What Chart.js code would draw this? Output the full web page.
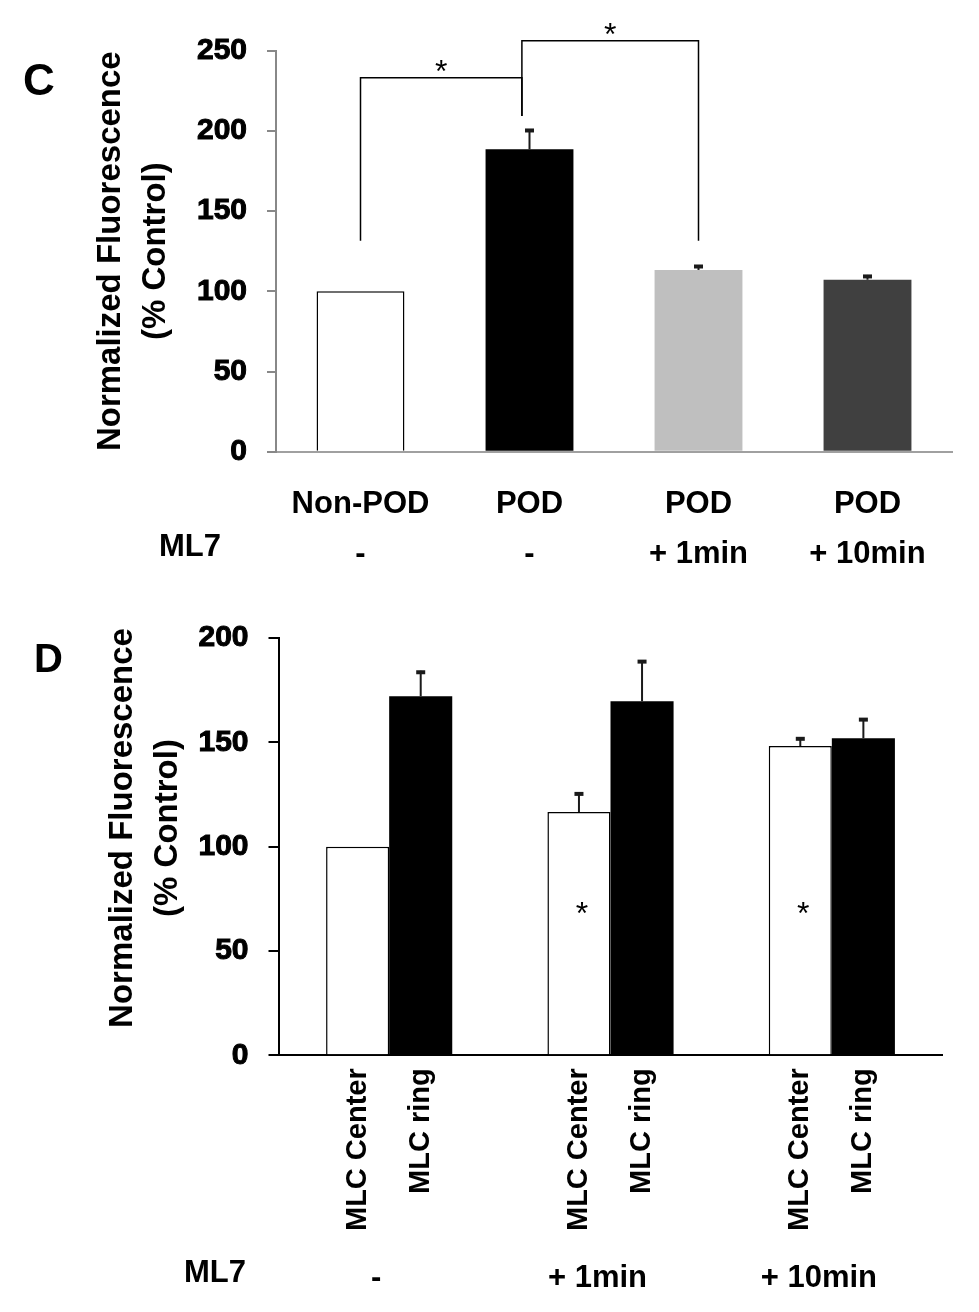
<!DOCTYPE html>
<html>
<head>
<meta charset="utf-8">
<title>Normalized Fluorescence</title>
<script src="https://cdn.jsdelivr.net/npm/chart.js@4.4.1/dist/chart.umd.min.js"></script>
<style>
    html, body { margin: 0; padding: 0; background: #fff; }
    #wrap { position: relative; width: 979px; height: 1312px; }
    .panel { position: absolute; left: 0; width: 979px; }
    #panelC { top: 0; height: 600px; }
    #panelD { top: 600px; height: 712px; }
</style>
</head>
<body>
<div id="wrap">
    <div class="panel" id="panelC"><canvas id="chartC"></canvas></div>
    <div class="panel" id="panelD"><canvas id="chartD"></canvas></div>
</div>
<script>
// Panel C data
const cConditions = ['Non-POD', 'POD', 'POD', 'POD'];
const cMl7 = ['-', '-', '+ 1min', '+ 10min'];
const cMeans = [100, 188.5, 113.3, 107.2];
const cErrors = [0, 12.7, 3.1, 3.0];
const cColors = ['#ffffff', '#000000', '#bfbfbf', '#404040'];
// significance brackets: [left index, right index, left foot, top, right foot]
const cBrackets = [[0, 0.955, 131.5, 233.2, 209.3], [0.955, 2, 209.3, 256.2, 131.5]];
const cStarLevels = [242.3, 265.4];

// Panel D data
const dMl7 = ['-', '+ 1min', '+ 10min'];
const dSeries = ['MLC Center', 'MLC ring'];
const dCenter = [100, 116.6, 148.2];
const dCenterErr = [0, 9.4, 4.2];
const dRing = [172.1, 169.7, 152.0];
const dRingErr = [12.2, 19.7, 9.6];
const dCenterStars = [null, 72, 72];

const FONT = '"Liberation Sans", Arial, sans-serif';
Chart.defaults.font.family = FONT;
Chart.defaults.color = '#000';
Chart.defaults.animation = false;
Chart.defaults.responsive = true;
Chart.defaults.maintainAspectRatio = false;

/**
 * Error bars (upper half only) on top of a bar dataset
 */
function drawErrorBars(chart, dsIndex, means, errs) {
    const ctx = chart.ctx;
    const y = chart.scales.y;
    const meta = chart.getDatasetMeta(dsIndex);
    ctx.save();
    ctx.strokeStyle = '#1a1a1a';
    ctx.fillStyle = '#1a1a1a';
    ctx.lineWidth = 2;
    meta.data.forEach((bar, i) => {
        if (!errs[i]) return;
        const top = y.getPixelForValue(means[i] + errs[i]);
        ctx.beginPath();
        ctx.moveTo(bar.x, bar.y);
        ctx.lineTo(bar.x, top);
        ctx.stroke();
        ctx.fillRect(bar.x - 4.5, top - 0.5, 9, 4);
    });
    ctx.restore();
}

function drawStar(ctx, x, y) {
    ctx.save();
    ctx.font = '32px ' + FONT;
    ctx.textAlign = 'center';
    ctx.textBaseline = 'alphabetic';
    ctx.fillText('*', x, y + 0.58 * 32);
    ctx.restore();
}

function drawYTitle(ctx, x1, x2, yc) {
    ctx.save();
    ctx.font = 'bold 33px ' + FONT;
    ctx.textAlign = 'center';
    ctx.textBaseline = 'middle';
    [['Normalized Fluorescence', x1], ['(% Control)', x2]].forEach(([txt, x]) => {
        ctx.save();
        ctx.translate(x, yc);
        ctx.rotate(-Math.PI / 2);
        ctx.fillText(txt, 0, 0);
        ctx.restore();
    });
    ctx.restore();
}

function drawText(ctx, txt, font, x, y, align) {
    ctx.save();
    ctx.font = font;
    ctx.textAlign = align || 'left';
    ctx.textBaseline = 'alphabetic';
    ctx.fillText(txt, x, y);
    ctx.restore();
}

// keep the x axis from asking for side padding (big tick padding inflates it)
function fixX(height) {
    return scale => {
        scale.height = height;
        scale.paddingLeft = 0;
        scale.paddingRight = 0;
    };
}

const cExtras = {
    id: 'cExtras',
    afterDatasetsDraw(chart) {
        const {ctx, scales: {x, y}} = chart;
        drawErrorBars(chart, 0, cMeans, cErrors);

        // significance brackets
        ctx.save();
        ctx.strokeStyle = '#000';
        ctx.lineWidth = 1.5;
        cBrackets.forEach(([a, b, footA, top, footB], i) => {
            const xa = x.getPixelForValue(a);
            const xb = x.getPixelForValue(b);
            const yt = y.getPixelForValue(top);
            ctx.beginPath();
            ctx.moveTo(xa, y.getPixelForValue(footA));
            ctx.lineTo(xa, yt);
            ctx.lineTo(xb, yt);
            ctx.lineTo(xb, y.getPixelForValue(footB));
            ctx.stroke();
            drawStar(ctx, (xa + xb) / 2, y.getPixelForValue(cStarLevels[i]));
        });
        ctx.restore();

        drawYTitle(ctx, 111, 156, (chart.chartArea.top + chart.chartArea.bottom) / 2);
        drawText(ctx, 'C', 'bold 44px ' + FONT, 23, 95);
        drawText(ctx, 'ML7', 'bold 31px ' + FONT, 159, 556);
    }
};

const dExtras = {
    id: 'dExtras',
    afterDatasetsDraw(chart) {
        const {ctx, scales: {y}} = chart;
        drawErrorBars(chart, 0, dCenter, dCenterErr);
        drawErrorBars(chart, 1, dRing, dRingErr);

        // stars inside the centre bars
        chart.getDatasetMeta(0).data.forEach((bar, i) => {
            if (dCenterStars[i] == null) return;
            drawStar(ctx, bar.x + 3, y.getPixelForValue(dCenterStars[i]));
        });

        // per-bar rotated labels under the axis
        ctx.save();
        ctx.font = 'bold 29px ' + FONT;
        ctx.textAlign = 'right';
        ctx.textBaseline = 'middle';
        dSeries.forEach((name, ds) => {
            chart.getDatasetMeta(ds).data.forEach(bar => {
                ctx.save();
                ctx.translate(bar.x, chart.chartArea.bottom + 13);
                ctx.rotate(-Math.PI / 2);
                ctx.fillText(name, 0, 0);
                ctx.restore();
            });
        });
        ctx.restore();

        drawYTitle(ctx, 123, 168, 228);
        drawText(ctx, 'D', 'bold 40px ' + FONT, 34, 72);
        drawText(ctx, 'ML7', 'bold 31px ' + FONT, 184, 682);
    }
};

new Chart(document.getElementById('chartC'), {
    type: 'bar',
    data: {
        labels: cConditions.map((c, i) => [c, cMl7[i]]),
        datasets: [{
            data: cMeans,
            backgroundColor: cColors,
            borderColor: ['#000000', '#000000', '#bfbfbf', '#404040'],
            borderWidth: [1.5, 0, 0, 0],
            barPercentage: 0.52,
            categoryPercentage: 1
        }]
    },
    options: {
        layout: { padding: { top: 50.7, right: 27, bottom: 0, left: 0 } },
        plugins: { legend: { display: false }, tooltip: { enabled: false } },
        scales: {
            x: {
                grid: { display: false },
                border: { display: true, color: '#a0a0a0', width: 2 },
                ticks: {
                    autoSkip: false,
                    maxRotation: 0,
                    padding: 19.3,
                    color: '#000',
                    font: { size: 31, weight: 'bold', lineHeight: '50px' }
                },
                afterFit: fixX(148.3)
            },
            y: {
                min: 0,
                max: 250,
                grid: { drawOnChartArea: false, drawTicks: true, tickLength: 9, color: '#888', lineWidth: 2 },
                border: { color: '#888', width: 2 },
                ticks: {
                    stepSize: 50,
                    padding: 20,
                    color: '#000',
                    textStrokeColor: '#000',
                    textStrokeWidth: 1,
                    font: { size: 30, weight: 'bold' }
                },
                afterFit: scale => { scale.width = 276; }
            }
        }
    },
    plugins: [cExtras]
});

new Chart(document.getElementById('chartD'), {
    type: 'bar',
    data: {
        labels: dMl7,
        datasets: [{
            label: dSeries[0],
            data: dCenter,
            backgroundColor: '#ffffff',
            borderColor: '#000000',
            borderWidth: 1.5,
            barPercentage: 1,
            categoryPercentage: 0.57
        }, {
            label: dSeries[1],
            data: dRing,
            backgroundColor: '#000000',
            borderColor: '#000000',
            borderWidth: 0,
            barPercentage: 1,
            categoryPercentage: 0.57
        }]
    },
    options: {
        layout: { padding: { top: 30.7, right: 36.5, bottom: 0, left: 0 } },
        plugins: { legend: { display: false }, tooltip: { enabled: false } },
        scales: {
            x: {
                grid: { display: false },
                border: { display: true, color: '#000', width: 2 },
                ticks: {
                    autoSkip: false,
                    maxRotation: 0,
                    padding: 197,
                    labelOffset: -13,
                    color: '#000',
                    font: { size: 31, weight: 'bold', lineHeight: 1.2 }
                },
                afterFit: fixX(256.7)
            },
            y: {
                min: 0,
                max: 200,
                grid: { drawOnChartArea: false, drawTicks: true, tickLength: 10, color: '#000', lineWidth: 2 },
                border: { color: '#000', width: 2 },
                ticks: {
                    stepSize: 50,
                    padding: 20,
                    color: '#000',
                    textStrokeColor: '#000',
                    textStrokeWidth: 1,
                    font: { size: 30, weight: 'bold' }
                },
                afterFit: scale => { scale.width = 278.5; }
            }
        }
    },
    plugins: [dExtras]
});
</script>
</body>
</html>
